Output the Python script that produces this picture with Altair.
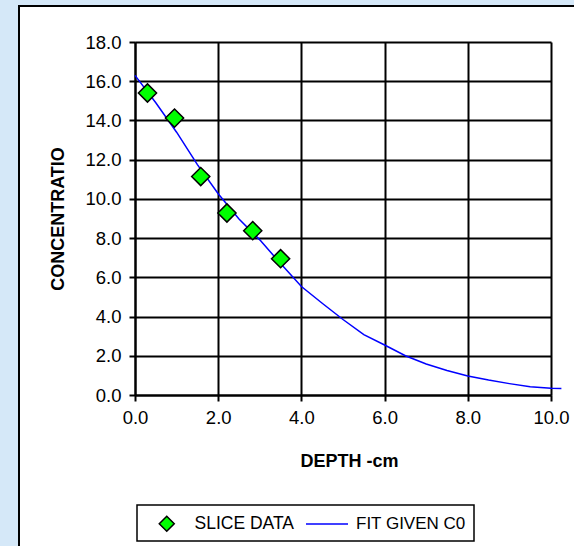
import altair as alt
import pandas as pd

# Measured slice concentrations vs depth
slice_depth = [0.3, 0.95, 1.58, 2.21, 2.83, 3.5]
slice_conc = [15.4, 14.12, 11.14, 9.28, 8.38, 6.95]

# Fitted profile for the given surface concentration C0
fit_depth = [0.0, 0.5, 1.0, 1.5, 2.0, 2.5, 3.0, 3.5, 4.0, 4.5, 5.0, 5.5,
             6.0, 6.5, 7.0, 7.5, 8.0, 8.5, 9.0, 9.5, 10.0, 10.25]
fit_conc = [16.3, 14.9, 13.4, 11.75, 10.26, 8.97, 7.91, 6.7, 5.53, 4.68, 3.85, 3.08,
            2.55, 2.0, 1.58, 1.25, 0.97, 0.76, 0.58, 0.42, 0.34, 0.33]

x_ticks = [0, 2, 4, 6, 8, 10]
y_ticks = [0, 2, 4, 6, 8, 10, 12, 14, 16, 18]

W, H = 416, 353
FONT = "Liberation Sans"

slice_df = pd.DataFrame({"depth": slice_depth, "conc": slice_conc, "series": "SLICE DATA"})
fit_df = pd.DataFrame({"depth": fit_depth, "conc": fit_conc, "series": "FIT GIVEN C0"})
one = pd.DataFrame({"k": [0]})

x_enc = alt.X("depth:Q",
              scale=alt.Scale(domain=[0, 10], nice=False),
              axis=alt.Axis(values=x_ticks, format=".1f", title="DEPTH -cm",
                            titleX=214, titleY=66, titleBaseline="middle",
                            titleAlign="center", labelPadding=7, labelFlush=False))
y_enc = alt.Y("conc:Q",
              scale=alt.Scale(domain=[0, 18], nice=False),
              axis=alt.Axis(values=y_ticks, format=".1f", title="CONCENTRATIO",
                            titleX=-77, titleY=H / 2, titleAngle=-90,
                            titleBaseline="middle", titleAlign="center",
                            labelPadding=8, labelFlush=False))

# Light blue frame strips and the bordered panel
strip_left = alt.Chart(one).mark_rect(color="#D5E8F8").encode(
    x=alt.value(-140), x2=alt.value(-116), y=alt.value(-50), y2=alt.value(520))
strip_top = alt.Chart(one).mark_rect(color="#D5E8F8").encode(
    x=alt.value(-140), x2=alt.value(460), y=alt.value(-50), y2=alt.value(-36))
panel = alt.Chart(one).mark_rect(fillOpacity=0, stroke="black", strokeWidth=2).encode(
    x=alt.value(-116), x2=alt.value(470), y=alt.value(-36), y2=alt.value(530))
legend_box = alt.Chart(one).mark_rect(fillOpacity=0, stroke="black", strokeWidth=1.5).encode(
    x=alt.value(2), x2=alt.value(339), y=alt.value(463), y2=alt.value(499))

fit_line = alt.Chart(fit_df).mark_line(strokeWidth=1.5).encode(
    x=x_enc, y=y_enc,
    stroke=alt.Stroke("series:N",
                      scale=alt.Scale(domain=["FIT GIVEN C0"], range=["#0000FF"]),
                      legend=alt.Legend(title=None, orient="none", legendX=170, legendY=460,
                                        symbolType="stroke", symbolSize=1764,
                                        symbolStrokeWidth=1.5, labelOffset=7,
                                        labelFont=FONT, labelFontSize=17, labelColor="black",
                                        padding=0)))

slices = alt.Chart(slice_df).mark_point(shape="diamond", filled=True, size=330,
                                        stroke="black", strokeWidth=1.5, opacity=1).encode(
    x=x_enc, y=y_enc,
    fill=alt.Fill("series:N",
                  scale=alt.Scale(domain=["SLICE DATA"], range=["#00FF00"]),
                  legend=alt.Legend(title=None, orient="none", legendX=23, legendY=473,
                                    symbolType="diamond", symbolSize=225,
                                    symbolStrokeColor="black", symbolStrokeWidth=1.5,
                                    symbolFillColor="#00FF00", symbolOpacity=1,
                                    labelOffset=19, labelFont=FONT, labelFontSize=17.5,
                                    labelColor="black", padding=0)))

chart = alt.layer(strip_left, strip_top, panel, legend_box, fit_line, slices).properties(
    width=W, height=H,
    background="white",
    autosize=alt.AutoSizeParams(type="none"),
    padding={"left": 135, "top": 42, "right": 23, "bottom": 151},
).configure_view(strokeWidth=0).configure_axis(
    grid=True, gridColor="black", gridWidth=2, gridOpacity=1,
    domainColor="black", domainWidth=2,
    tickColor="black", tickWidth=2, tickSize=6,
    labelFont=FONT, labelFontSize=18.5, labelColor="black",
    titleFont=FONT, titleFontSize=18, titleFontWeight="bold", titleColor="black",
)

chart.save("out.html", embed_options={"renderer": "svg", "actions": False})
